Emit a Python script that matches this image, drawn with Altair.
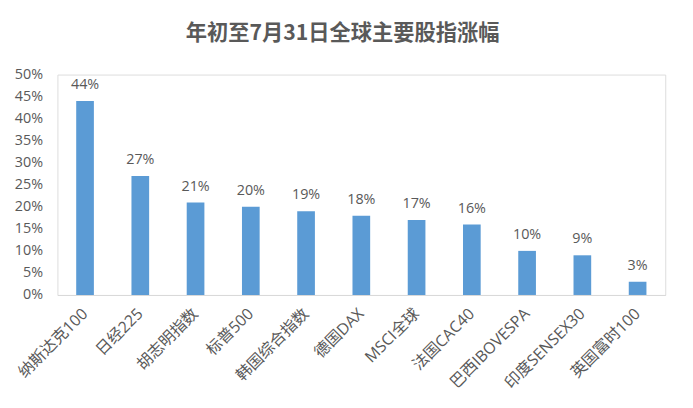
import altair as alt
import pandas as pd

categories = ["纳斯达克100", "日经225", "胡志明指数", "标普500", "韩国综合指数", "德国DAX",
              "MSCI全球", "法国CAC40", "巴西IBOVESPA", "印度SENSEX30", "英国富时100"]
values = [0.44, 0.27, 0.21, 0.20, 0.19, 0.18, 0.17, 0.16, 0.10, 0.09, 0.03]
y_ticks = [0, 0.05, 0.10, 0.15, 0.20, 0.25, 0.30, 0.35, 0.40, 0.45, 0.50]

df = pd.DataFrame({"index": categories, "change": values})

FONT = "Open Sans, Noto Sans CJK SC, sans-serif"
TXT = "#595959"

base = alt.Chart(df)

x_enc = alt.X("index:N", sort=None, title=None,
              scale=alt.Scale(paddingInner=0.68, paddingOuter=0.34),
              axis=alt.Axis(labelAngle=-45, labelAlign="right", labelBaseline="middle",
                            labelPadding=16, labelFontSize=16, labelColor=TXT, labelFont=FONT,
                            labelOverlap=False, ticks=False, domainColor="#d9d9d9",
                            domainWidth=1, grid=False))
y_enc = alt.Y("change:Q", title=None,
              scale=alt.Scale(domain=[0, 0.5], nice=False),
              axis=alt.Axis(values=y_ticks, tickCount=11, format=".0%", labelFontSize=14.5,
                            labelColor=TXT, labelFont=FONT, labelPadding=15, labelOverlap=False,
                            domain=False, ticks=False, grid=False))

bars = base.mark_bar(color="#5B9BD5").encode(x=x_enc, y=y_enc)
labels = base.mark_text(dy=-12, baseline="alphabetic", fontSize=14.5, color=TXT, font=FONT).encode(
    x=x_enc, y=y_enc, text=alt.Text("change:Q", format=".0%"))

chart = (bars + labels).properties(
    width=615, height=223,
    title=alt.TitleParams("年初至7月31日全球主要股指涨幅", font="Noto Sans CJK SC", fontSize=21.5,
                          fontWeight="bold", color=TXT, anchor="middle", frame="group",
                          dx=-19, offset=22),
    autosize=alt.AutoSizeParams(type="none"),
    padding={"left": 50, "top": 65, "right": 20, "bottom": 112},
).configure_view(stroke=None).configure(background="white")

chart.save("out.html", embed_options={"renderer": "svg", "actions": False})
